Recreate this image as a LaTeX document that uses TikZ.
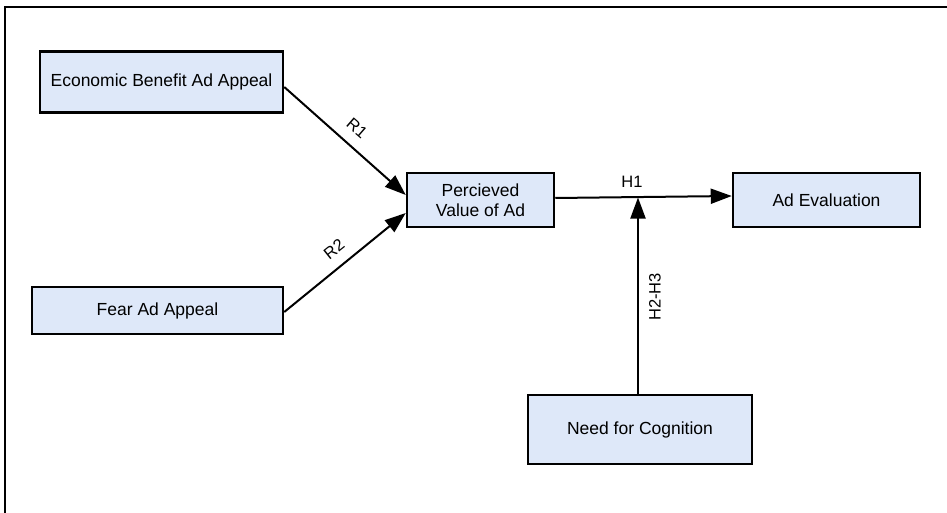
\documentclass[tikz,border=0pt]{standalone}
\usepackage{fontspec}
\setmainfont{Liberation Sans}
\usetikzlibrary{arrows.meta}
\definecolor{boxfill}{RGB}{222,232,249}
\begin{document}
\begin{tikzpicture}[x=1pt,y=-1pt,
  box/.style={draw=black,line width=2.5pt,fill=boxfill,rectangle,inner sep=0pt,
    font=\fontsize{17.5}{20}\selectfont,align=center},
  conn/.style={line width=2pt,-{Triangle[length=21pt,width=15pt]}},
  lbl/.style={font=\fontsize{16.5}{19}\selectfont,inner sep=0pt}]
\useasboundingbox (0,0) rectangle (947,513);
\draw[line width=2.5pt] (5,513) -- (5,7) -- (947,7);
\node[box,minimum width=243pt,minimum height=61pt] (econ) at (161.5,82) {Economic Benefit Ad Appeal};
\node[box,minimum width=251pt,minimum height=47pt] (fear) at (157.5,310.5) {Fear Ad Appeal};
\node[box,minimum width=147pt,minimum height=54pt] (perc) at (480.5,200) {Percieved\\Value of Ad};
\node[box,minimum width=187pt,minimum height=54pt] (adev) at (826.5,200) {Ad Evaluation};
\node[box,minimum width=224pt,minimum height=69pt] (nfc) at (640,429.5) {Need for Cognition};
\coordinate (j) at (638,197.5);
\draw[conn] ([yshift=-5pt]econ.east) -- ([yshift=5pt]perc.west);
\draw[conn] ([yshift=-1.5pt]fear.east) -- ([yshift=-13pt]perc.west);
\draw[conn] ([yshift=2pt]perc.east) -- ([yshift=4pt]adev.west);
\draw[conn] (nfc.north -| j) -- (j);
\node[lbl,rotate=-41] (r1) at (357,128) {R1};
\node[lbl,rotate=38.6] (r2) at (334,249) {R2};
\node[lbl] (h1) at (632,182) {H1};
\node[lbl,rotate=90] (h23) at (655,297) {H2-H3};
\end{tikzpicture}
\end{document}
